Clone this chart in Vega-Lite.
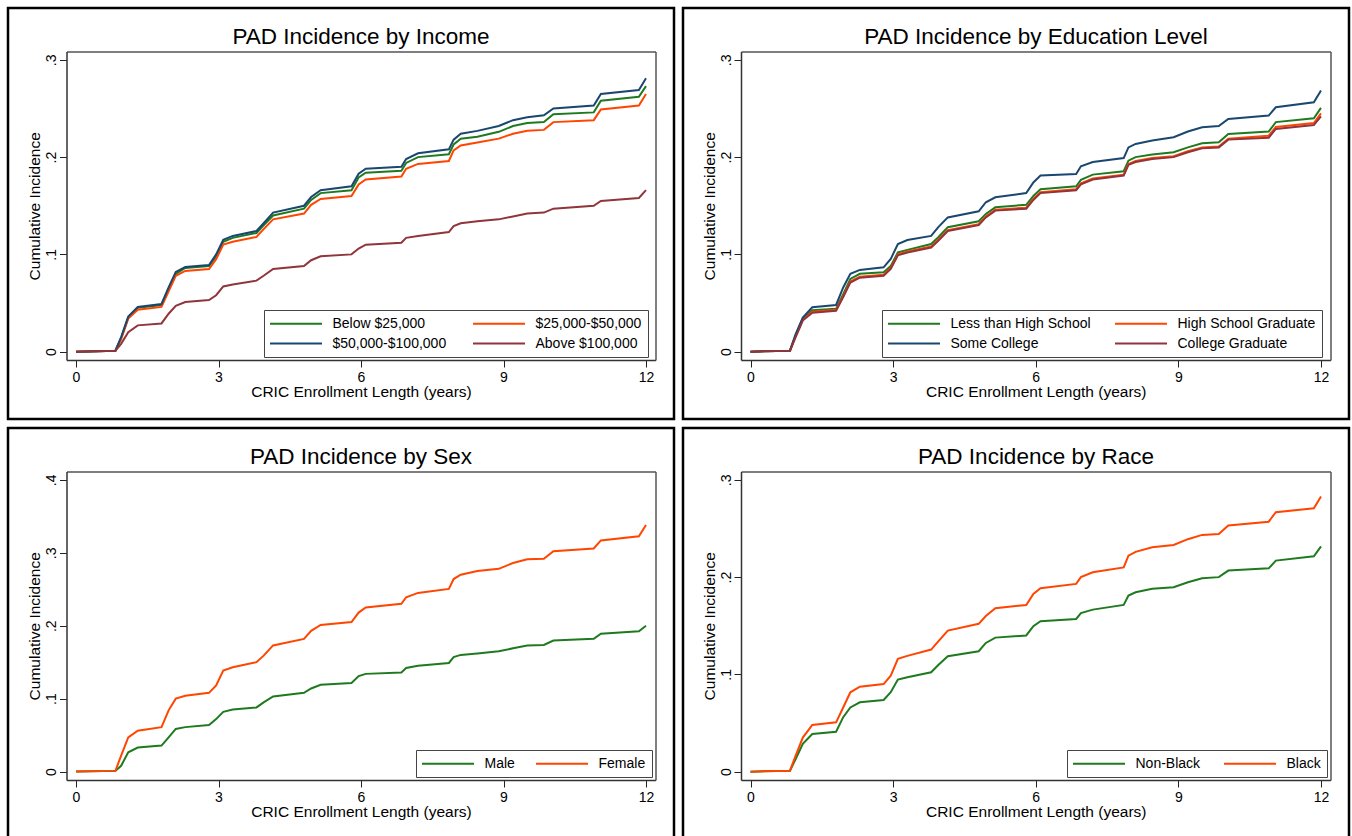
{
"$schema": "https://vega.github.io/schema/vega-lite/v6.json",
"background": "white",
"padding": {"left": 6, "top": 6, "right": 2.5, "bottom": -3.75},
"bounds": "flush",
"spacing": 9,
"columns": 2,
"config": {
  "font": "Liberation Sans",
  "view": {"stroke": "black", "strokeWidth": 2.5, "fill": "white"},
  "axis": {"labelFont": "Liberation Sans", "titleFont": "Liberation Sans", "labelColor": "black", "titleColor": "black", "tickColor": "#222", "domainColor": "#333", "grid": false, "labelFontSize": 14, "titleFontSize": 15.5, "titleFontWeight": "normal", "tickSize": 7, "domainWidth": 1.5, "tickWidth": 1},
  "legend": {"labelFont": "Liberation Sans", "labelFontSize": 14, "labelColor": "black", "symbolType": "M-4,0H4", "symbolSize": 169, "symbolStrokeWidth": 2, "symbolOffset": 18.5, "labelOffset": 29, "columnPadding": 22, "rowPadding": 5, "padding": 6, "direction": "horizontal", "strokeColor": "#444", "fillColor": "white", "labelLimit": 300, "title": null},
  "title": {"font": "Liberation Sans", "fontSize": 22.5, "fontWeight": "normal", "color": "black", "anchor": "middle", "frame": "group", "dx": 20, "offset": -40, "baseline": "alphabetic"}
},
"resolve": {"scale": {"x": "independent", "y": "independent", "color": "independent"}, "legend": {"color": "independent"}},
"datasets": {
"income": [
{"group":"Below $25,000","year":0,"ci":0},{"group":"Below $25,000","year":0.83,"ci":0.001},{"group":"Below $25,000","year":0.95,"ci":0.014},{"group":"Below $25,000","year":1.1,"ci":0.035},{"group":"Below $25,000","year":1.3,"ci":0.045},{"group":"Below $25,000","year":1.8,"ci":0.048},{"group":"Below $25,000","year":1.95,"ci":0.065},{"group":"Below $25,000","year":2.1,"ci":0.080},{"group":"Below $25,000","year":2.3,"ci":0.086},{"group":"Below $25,000","year":2.8,"ci":0.088},{"group":"Below $25,000","year":2.95,"ci":0.098},{"group":"Below $25,000","year":3.1,"ci":0.113},{"group":"Below $25,000","year":3.3,"ci":0.117},{"group":"Below $25,000","year":3.8,"ci":0.122},{"group":"Below $25,000","year":3.95,"ci":0.130},{"group":"Below $25,000","year":4.15,"ci":0.140},{"group":"Below $25,000","year":4.8,"ci":0.147},{"group":"Below $25,000","year":4.95,"ci":0.156},{"group":"Below $25,000","year":5.15,"ci":0.163},{"group":"Below $25,000","year":5.8,"ci":0.166},{"group":"Below $25,000","year":5.95,"ci":0.179},{"group":"Below $25,000","year":6.1,"ci":0.184},{"group":"Below $25,000","year":6.85,"ci":0.186},{"group":"Below $25,000","year":6.95,"ci":0.194},{"group":"Below $25,000","year":7.2,"ci":0.200},{"group":"Below $25,000","year":7.85,"ci":0.203},{"group":"Below $25,000","year":7.95,"ci":0.213},{"group":"Below $25,000","year":8.1,"ci":0.219},{"group":"Below $25,000","year":8.45,"ci":0.221},{"group":"Below $25,000","year":8.9,"ci":0.226},{"group":"Below $25,000","year":9.2,"ci":0.232},{"group":"Below $25,000","year":9.5,"ci":0.235},{"group":"Below $25,000","year":9.85,"ci":0.236},{"group":"Below $25,000","year":10.05,"ci":0.244},{"group":"Below $25,000","year":10.9,"ci":0.246},{"group":"Below $25,000","year":11.05,"ci":0.258},{"group":"Below $25,000","year":11.85,"ci":0.262},{"group":"Below $25,000","year":12,"ci":0.273},
{"group":"$25,000-$50,000","year":0,"ci":0},{"group":"$25,000-$50,000","year":0.83,"ci":0.001},{"group":"$25,000-$50,000","year":0.95,"ci":0.013},{"group":"$25,000-$50,000","year":1.1,"ci":0.034},{"group":"$25,000-$50,000","year":1.3,"ci":0.043},{"group":"$25,000-$50,000","year":1.8,"ci":0.046},{"group":"$25,000-$50,000","year":1.95,"ci":0.062},{"group":"$25,000-$50,000","year":2.1,"ci":0.078},{"group":"$25,000-$50,000","year":2.3,"ci":0.083},{"group":"$25,000-$50,000","year":2.8,"ci":0.085},{"group":"$25,000-$50,000","year":2.95,"ci":0.095},{"group":"$25,000-$50,000","year":3.1,"ci":0.110},{"group":"$25,000-$50,000","year":3.3,"ci":0.113},{"group":"$25,000-$50,000","year":3.8,"ci":0.118},{"group":"$25,000-$50,000","year":3.95,"ci":0.126},{"group":"$25,000-$50,000","year":4.15,"ci":0.136},{"group":"$25,000-$50,000","year":4.8,"ci":0.142},{"group":"$25,000-$50,000","year":4.95,"ci":0.151},{"group":"$25,000-$50,000","year":5.15,"ci":0.157},{"group":"$25,000-$50,000","year":5.8,"ci":0.160},{"group":"$25,000-$50,000","year":5.95,"ci":0.172},{"group":"$25,000-$50,000","year":6.1,"ci":0.177},{"group":"$25,000-$50,000","year":6.85,"ci":0.180},{"group":"$25,000-$50,000","year":6.95,"ci":0.188},{"group":"$25,000-$50,000","year":7.2,"ci":0.193},{"group":"$25,000-$50,000","year":7.85,"ci":0.196},{"group":"$25,000-$50,000","year":7.95,"ci":0.207},{"group":"$25,000-$50,000","year":8.1,"ci":0.212},{"group":"$25,000-$50,000","year":8.45,"ci":0.215},{"group":"$25,000-$50,000","year":8.9,"ci":0.219},{"group":"$25,000-$50,000","year":9.2,"ci":0.224},{"group":"$25,000-$50,000","year":9.5,"ci":0.227},{"group":"$25,000-$50,000","year":9.85,"ci":0.228},{"group":"$25,000-$50,000","year":10.05,"ci":0.236},{"group":"$25,000-$50,000","year":10.9,"ci":0.238},{"group":"$25,000-$50,000","year":11.05,"ci":0.249},{"group":"$25,000-$50,000","year":11.85,"ci":0.253},{"group":"$25,000-$50,000","year":12,"ci":0.265},
{"group":"$50,000-$100,000","year":0,"ci":0},{"group":"$50,000-$100,000","year":0.83,"ci":0.001},{"group":"$50,000-$100,000","year":0.95,"ci":0.015},{"group":"$50,000-$100,000","year":1.1,"ci":0.036},{"group":"$50,000-$100,000","year":1.3,"ci":0.046},{"group":"$50,000-$100,000","year":1.8,"ci":0.049},{"group":"$50,000-$100,000","year":1.95,"ci":0.066},{"group":"$50,000-$100,000","year":2.1,"ci":0.082},{"group":"$50,000-$100,000","year":2.3,"ci":0.087},{"group":"$50,000-$100,000","year":2.8,"ci":0.089},{"group":"$50,000-$100,000","year":2.95,"ci":0.100},{"group":"$50,000-$100,000","year":3.1,"ci":0.115},{"group":"$50,000-$100,000","year":3.3,"ci":0.119},{"group":"$50,000-$100,000","year":3.8,"ci":0.124},{"group":"$50,000-$100,000","year":3.95,"ci":0.132},{"group":"$50,000-$100,000","year":4.15,"ci":0.143},{"group":"$50,000-$100,000","year":4.8,"ci":0.150},{"group":"$50,000-$100,000","year":4.95,"ci":0.159},{"group":"$50,000-$100,000","year":5.15,"ci":0.166},{"group":"$50,000-$100,000","year":5.8,"ci":0.170},{"group":"$50,000-$100,000","year":5.95,"ci":0.183},{"group":"$50,000-$100,000","year":6.1,"ci":0.188},{"group":"$50,000-$100,000","year":6.85,"ci":0.190},{"group":"$50,000-$100,000","year":6.95,"ci":0.198},{"group":"$50,000-$100,000","year":7.2,"ci":0.204},{"group":"$50,000-$100,000","year":7.85,"ci":0.208},{"group":"$50,000-$100,000","year":7.95,"ci":0.218},{"group":"$50,000-$100,000","year":8.1,"ci":0.224},{"group":"$50,000-$100,000","year":8.45,"ci":0.227},{"group":"$50,000-$100,000","year":8.9,"ci":0.232},{"group":"$50,000-$100,000","year":9.2,"ci":0.238},{"group":"$50,000-$100,000","year":9.5,"ci":0.241},{"group":"$50,000-$100,000","year":9.85,"ci":0.243},{"group":"$50,000-$100,000","year":10.05,"ci":0.250},{"group":"$50,000-$100,000","year":10.9,"ci":0.253},{"group":"$50,000-$100,000","year":11.05,"ci":0.265},{"group":"$50,000-$100,000","year":11.85,"ci":0.269},{"group":"$50,000-$100,000","year":12,"ci":0.281},
{"group":"Above $100,000","year":0,"ci":0},{"group":"Above $100,000","year":0.83,"ci":0.001},{"group":"Above $100,000","year":0.95,"ci":0.008},{"group":"Above $100,000","year":1.1,"ci":0.020},{"group":"Above $100,000","year":1.3,"ci":0.027},{"group":"Above $100,000","year":1.8,"ci":0.029},{"group":"Above $100,000","year":1.95,"ci":0.039},{"group":"Above $100,000","year":2.1,"ci":0.047},{"group":"Above $100,000","year":2.3,"ci":0.051},{"group":"Above $100,000","year":2.8,"ci":0.053},{"group":"Above $100,000","year":2.95,"ci":0.058},{"group":"Above $100,000","year":3.1,"ci":0.067},{"group":"Above $100,000","year":3.3,"ci":0.069},{"group":"Above $100,000","year":3.8,"ci":0.073},{"group":"Above $100,000","year":3.95,"ci":0.078},{"group":"Above $100,000","year":4.15,"ci":0.085},{"group":"Above $100,000","year":4.8,"ci":0.088},{"group":"Above $100,000","year":4.95,"ci":0.094},{"group":"Above $100,000","year":5.15,"ci":0.098},{"group":"Above $100,000","year":5.8,"ci":0.100},{"group":"Above $100,000","year":5.95,"ci":0.106},{"group":"Above $100,000","year":6.1,"ci":0.110},{"group":"Above $100,000","year":6.85,"ci":0.112},{"group":"Above $100,000","year":6.95,"ci":0.117},{"group":"Above $100,000","year":7.2,"ci":0.119},{"group":"Above $100,000","year":7.85,"ci":0.123},{"group":"Above $100,000","year":7.95,"ci":0.129},{"group":"Above $100,000","year":8.1,"ci":0.132},{"group":"Above $100,000","year":8.45,"ci":0.134},{"group":"Above $100,000","year":8.9,"ci":0.136},{"group":"Above $100,000","year":9.2,"ci":0.139},{"group":"Above $100,000","year":9.5,"ci":0.142},{"group":"Above $100,000","year":9.85,"ci":0.143},{"group":"Above $100,000","year":10.05,"ci":0.147},{"group":"Above $100,000","year":10.9,"ci":0.150},{"group":"Above $100,000","year":11.05,"ci":0.155},{"group":"Above $100,000","year":11.85,"ci":0.158},{"group":"Above $100,000","year":12,"ci":0.166}
],
"education": [
{"group":"Less than High School","year":0,"ci":0},{"group":"Less than High School","year":0.83,"ci":0.001},{"group":"Less than High School","year":0.95,"ci":0.017},{"group":"Less than High School","year":1.1,"ci":0.034},{"group":"Less than High School","year":1.3,"ci":0.0425},{"group":"Less than High School","year":1.8,"ci":0.044},{"group":"Less than High School","year":1.95,"ci":0.059},{"group":"Less than High School","year":2.1,"ci":0.0747},{"group":"Less than High School","year":2.3,"ci":0.080},{"group":"Less than High School","year":2.8,"ci":0.0816},{"group":"Less than High School","year":2.95,"ci":0.088},{"group":"Less than High School","year":3.1,"ci":0.102},{"group":"Less than High School","year":3.3,"ci":0.1046},{"group":"Less than High School","year":3.8,"ci":0.1107},{"group":"Less than High School","year":3.95,"ci":0.1176},{"group":"Less than High School","year":4.15,"ci":0.128},{"group":"Less than High School","year":4.8,"ci":0.134},{"group":"Less than High School","year":4.95,"ci":0.1416},{"group":"Less than High School","year":5.15,"ci":0.1484},{"group":"Less than High School","year":5.8,"ci":0.151},{"group":"Less than High School","year":5.95,"ci":0.160},{"group":"Less than High School","year":6.1,"ci":0.167},{"group":"Less than High School","year":6.85,"ci":0.170},{"group":"Less than High School","year":6.95,"ci":0.1766},{"group":"Less than High School","year":7.2,"ci":0.182},{"group":"Less than High School","year":7.85,"ci":0.1855},{"group":"Less than High School","year":7.95,"ci":0.1964},{"group":"Less than High School","year":8.1,"ci":0.200},{"group":"Less than High School","year":8.45,"ci":0.2026},{"group":"Less than High School","year":8.9,"ci":0.205},{"group":"Less than High School","year":9.2,"ci":0.210},{"group":"Less than High School","year":9.5,"ci":0.2143},{"group":"Less than High School","year":9.85,"ci":0.2153},{"group":"Less than High School","year":10.05,"ci":0.2239},{"group":"Less than High School","year":10.9,"ci":0.2263},{"group":"Less than High School","year":11.05,"ci":0.236},{"group":"Less than High School","year":11.85,"ci":0.240},{"group":"Less than High School","year":12,"ci":0.2506},
{"group":"High School Graduate","year":0,"ci":0},{"group":"High School Graduate","year":0.83,"ci":0.001},{"group":"High School Graduate","year":0.95,"ci":0.016},{"group":"High School Graduate","year":1.1,"ci":0.033},{"group":"High School Graduate","year":1.3,"ci":0.041},{"group":"High School Graduate","year":1.8,"ci":0.043},{"group":"High School Graduate","year":1.95,"ci":0.057},{"group":"High School Graduate","year":2.1,"ci":0.072},{"group":"High School Graduate","year":2.3,"ci":0.077},{"group":"High School Graduate","year":2.8,"ci":0.079},{"group":"High School Graduate","year":2.95,"ci":0.086},{"group":"High School Graduate","year":3.1,"ci":0.100},{"group":"High School Graduate","year":3.3,"ci":0.103},{"group":"High School Graduate","year":3.8,"ci":0.108},{"group":"High School Graduate","year":3.95,"ci":0.115},{"group":"High School Graduate","year":4.15,"ci":0.125},{"group":"High School Graduate","year":4.8,"ci":0.131},{"group":"High School Graduate","year":4.95,"ci":0.139},{"group":"High School Graduate","year":5.15,"ci":0.146},{"group":"High School Graduate","year":5.8,"ci":0.148},{"group":"High School Graduate","year":5.95,"ci":0.157},{"group":"High School Graduate","year":6.1,"ci":0.164},{"group":"High School Graduate","year":6.85,"ci":0.167},{"group":"High School Graduate","year":6.95,"ci":0.173},{"group":"High School Graduate","year":7.2,"ci":0.178},{"group":"High School Graduate","year":7.85,"ci":0.182},{"group":"High School Graduate","year":7.95,"ci":0.193},{"group":"High School Graduate","year":8.1,"ci":0.196},{"group":"High School Graduate","year":8.45,"ci":0.199},{"group":"High School Graduate","year":8.9,"ci":0.201},{"group":"High School Graduate","year":9.2,"ci":0.206},{"group":"High School Graduate","year":9.5,"ci":0.210},{"group":"High School Graduate","year":9.85,"ci":0.211},{"group":"High School Graduate","year":10.05,"ci":0.219},{"group":"High School Graduate","year":10.9,"ci":0.222},{"group":"High School Graduate","year":11.05,"ci":0.231},{"group":"High School Graduate","year":11.85,"ci":0.235},{"group":"High School Graduate","year":12,"ci":0.245},
{"group":"Some College","year":0,"ci":0},{"group":"Some College","year":0.83,"ci":0.001},{"group":"Some College","year":0.95,"ci":0.018},{"group":"Some College","year":1.1,"ci":0.035},{"group":"Some College","year":1.3,"ci":0.0456},{"group":"Some College","year":1.8,"ci":0.048},{"group":"Some College","year":1.95,"ci":0.066},{"group":"Some College","year":2.1,"ci":0.080},{"group":"Some College","year":2.3,"ci":0.084},{"group":"Some College","year":2.8,"ci":0.0867},{"group":"Some College","year":2.95,"ci":0.0953},{"group":"Some College","year":3.1,"ci":0.1107},{"group":"Some College","year":3.3,"ci":0.1148},{"group":"Some College","year":3.8,"ci":0.119},{"group":"Some College","year":3.95,"ci":0.128},{"group":"Some College","year":4.15,"ci":0.138},{"group":"Some College","year":4.8,"ci":0.1443},{"group":"Some College","year":4.95,"ci":0.1536},{"group":"Some College","year":5.15,"ci":0.1587},{"group":"Some College","year":5.8,"ci":0.163},{"group":"Some College","year":5.95,"ci":0.174},{"group":"Some College","year":6.1,"ci":0.181},{"group":"Some College","year":6.85,"ci":0.1827},{"group":"Some College","year":6.95,"ci":0.1906},{"group":"Some College","year":7.2,"ci":0.195},{"group":"Some College","year":7.85,"ci":0.199},{"group":"Some College","year":7.95,"ci":0.210},{"group":"Some College","year":8.1,"ci":0.2136},{"group":"Some College","year":8.45,"ci":0.217},{"group":"Some College","year":8.9,"ci":0.2204},{"group":"Some College","year":9.2,"ci":0.2263},{"group":"Some College","year":9.5,"ci":0.2307},{"group":"Some College","year":9.85,"ci":0.232},{"group":"Some College","year":10.05,"ci":0.2393},{"group":"Some College","year":10.9,"ci":0.2427},{"group":"Some College","year":11.05,"ci":0.2513},{"group":"Some College","year":11.85,"ci":0.2564},{"group":"Some College","year":12,"ci":0.2684},
{"group":"College Graduate","year":0,"ci":0},{"group":"College Graduate","year":0.83,"ci":0.001},{"group":"College Graduate","year":0.95,"ci":0.015},{"group":"College Graduate","year":1.1,"ci":0.032},{"group":"College Graduate","year":1.3,"ci":0.040},{"group":"College Graduate","year":1.8,"ci":0.042},{"group":"College Graduate","year":1.95,"ci":0.056},{"group":"College Graduate","year":2.1,"ci":0.071},{"group":"College Graduate","year":2.3,"ci":0.076},{"group":"College Graduate","year":2.8,"ci":0.078},{"group":"College Graduate","year":2.95,"ci":0.085},{"group":"College Graduate","year":3.1,"ci":0.099},{"group":"College Graduate","year":3.3,"ci":0.102},{"group":"College Graduate","year":3.8,"ci":0.107},{"group":"College Graduate","year":3.95,"ci":0.114},{"group":"College Graduate","year":4.15,"ci":0.124},{"group":"College Graduate","year":4.8,"ci":0.130},{"group":"College Graduate","year":4.95,"ci":0.138},{"group":"College Graduate","year":5.15,"ci":0.145},{"group":"College Graduate","year":5.8,"ci":0.147},{"group":"College Graduate","year":5.95,"ci":0.156},{"group":"College Graduate","year":6.1,"ci":0.163},{"group":"College Graduate","year":6.85,"ci":0.166},{"group":"College Graduate","year":6.95,"ci":0.172},{"group":"College Graduate","year":7.2,"ci":0.177},{"group":"College Graduate","year":7.85,"ci":0.181},{"group":"College Graduate","year":7.95,"ci":0.192},{"group":"College Graduate","year":8.1,"ci":0.195},{"group":"College Graduate","year":8.45,"ci":0.198},{"group":"College Graduate","year":8.9,"ci":0.200},{"group":"College Graduate","year":9.2,"ci":0.205},{"group":"College Graduate","year":9.5,"ci":0.209},{"group":"College Graduate","year":9.85,"ci":0.210},{"group":"College Graduate","year":10.05,"ci":0.218},{"group":"College Graduate","year":10.9,"ci":0.220},{"group":"College Graduate","year":11.05,"ci":0.229},{"group":"College Graduate","year":11.85,"ci":0.233},{"group":"College Graduate","year":12,"ci":0.242}
],
"sex": [
{"group":"Male","year":0,"ci":0},{"group":"Male","year":0.83,"ci":0.001},{"group":"Male","year":0.95,"ci":0.008},{"group":"Male","year":1.1,"ci":0.0265},{"group":"Male","year":1.3,"ci":0.033},{"group":"Male","year":1.8,"ci":0.0357},{"group":"Male","year":1.95,"ci":0.047},{"group":"Male","year":2.1,"ci":0.0585},{"group":"Male","year":2.3,"ci":0.061},{"group":"Male","year":2.8,"ci":0.064},{"group":"Male","year":2.95,"ci":0.072},{"group":"Male","year":3.1,"ci":0.082},{"group":"Male","year":3.3,"ci":0.085},{"group":"Male","year":3.8,"ci":0.088},{"group":"Male","year":3.95,"ci":0.095},{"group":"Male","year":4.15,"ci":0.103},{"group":"Male","year":4.8,"ci":0.108},{"group":"Male","year":4.95,"ci":0.114},{"group":"Male","year":5.15,"ci":0.119},{"group":"Male","year":5.8,"ci":0.1216},{"group":"Male","year":5.95,"ci":0.131},{"group":"Male","year":6.1,"ci":0.134},{"group":"Male","year":6.85,"ci":0.136},{"group":"Male","year":6.95,"ci":0.142},{"group":"Male","year":7.2,"ci":0.145},{"group":"Male","year":7.85,"ci":0.149},{"group":"Male","year":7.95,"ci":0.157},{"group":"Male","year":8.1,"ci":0.160},{"group":"Male","year":8.45,"ci":0.162},{"group":"Male","year":8.9,"ci":0.165},{"group":"Male","year":9.2,"ci":0.169},{"group":"Male","year":9.5,"ci":0.173},{"group":"Male","year":9.85,"ci":0.1737},{"group":"Male","year":10.05,"ci":0.1797},{"group":"Male","year":10.9,"ci":0.182},{"group":"Male","year":11.05,"ci":0.189},{"group":"Male","year":11.85,"ci":0.1925},{"group":"Male","year":12,"ci":0.200},
{"group":"Female","year":0,"ci":0},{"group":"Female","year":0.83,"ci":0.001},{"group":"Female","year":0.95,"ci":0.022},{"group":"Female","year":1.1,"ci":0.047},{"group":"Female","year":1.3,"ci":0.056},{"group":"Female","year":1.8,"ci":0.061},{"group":"Female","year":1.95,"ci":0.084},{"group":"Female","year":2.1,"ci":0.100},{"group":"Female","year":2.3,"ci":0.104},{"group":"Female","year":2.8,"ci":0.108},{"group":"Female","year":2.95,"ci":0.118},{"group":"Female","year":3.1,"ci":0.1385},{"group":"Female","year":3.3,"ci":0.143},{"group":"Female","year":3.8,"ci":0.150},{"group":"Female","year":3.95,"ci":0.159},{"group":"Female","year":4.15,"ci":0.173},{"group":"Female","year":4.8,"ci":0.182},{"group":"Female","year":4.95,"ci":0.193},{"group":"Female","year":5.15,"ci":0.201},{"group":"Female","year":5.8,"ci":0.205},{"group":"Female","year":5.95,"ci":0.218},{"group":"Female","year":6.1,"ci":0.225},{"group":"Female","year":6.85,"ci":0.230},{"group":"Female","year":6.95,"ci":0.239},{"group":"Female","year":7.2,"ci":0.245},{"group":"Female","year":7.85,"ci":0.2505},{"group":"Female","year":7.95,"ci":0.264},{"group":"Female","year":8.1,"ci":0.270},{"group":"Female","year":8.45,"ci":0.275},{"group":"Female","year":8.9,"ci":0.278},{"group":"Female","year":9.2,"ci":0.286},{"group":"Female","year":9.5,"ci":0.291},{"group":"Female","year":9.85,"ci":0.2917},{"group":"Female","year":10.05,"ci":0.302},{"group":"Female","year":10.9,"ci":0.306},{"group":"Female","year":11.05,"ci":0.317},{"group":"Female","year":11.85,"ci":0.3227},{"group":"Female","year":12,"ci":0.338}
],
"race": [
{"group":"Non-Black","year":0,"ci":0},{"group":"Non-Black","year":0.83,"ci":0.001},{"group":"Non-Black","year":0.95,"ci":0.013},{"group":"Non-Black","year":1.1,"ci":0.0285},{"group":"Non-Black","year":1.3,"ci":0.0387},{"group":"Non-Black","year":1.8,"ci":0.041},{"group":"Non-Black","year":1.95,"ci":0.056},{"group":"Non-Black","year":2.1,"ci":0.066},{"group":"Non-Black","year":2.3,"ci":0.0713},{"group":"Non-Black","year":2.8,"ci":0.0737},{"group":"Non-Black","year":2.95,"ci":0.0816},{"group":"Non-Black","year":3.1,"ci":0.0946},{"group":"Non-Black","year":3.3,"ci":0.097},{"group":"Non-Black","year":3.8,"ci":0.1022},{"group":"Non-Black","year":3.95,"ci":0.1097},{"group":"Non-Black","year":4.15,"ci":0.1186},{"group":"Non-Black","year":4.8,"ci":0.1238},{"group":"Non-Black","year":4.95,"ci":0.1323},{"group":"Non-Black","year":5.15,"ci":0.1378},{"group":"Non-Black","year":5.8,"ci":0.140},{"group":"Non-Black","year":5.95,"ci":0.1495},{"group":"Non-Black","year":6.1,"ci":0.1546},{"group":"Non-Black","year":6.85,"ci":0.157},{"group":"Non-Black","year":6.95,"ci":0.163},{"group":"Non-Black","year":7.2,"ci":0.1666},{"group":"Non-Black","year":7.85,"ci":0.1714},{"group":"Non-Black","year":7.95,"ci":0.181},{"group":"Non-Black","year":8.1,"ci":0.1844},{"group":"Non-Black","year":8.45,"ci":0.188},{"group":"Non-Black","year":8.9,"ci":0.1896},{"group":"Non-Black","year":9.2,"ci":0.1947},{"group":"Non-Black","year":9.5,"ci":0.1988},{"group":"Non-Black","year":9.85,"ci":0.200},{"group":"Non-Black","year":10.05,"ci":0.2067},{"group":"Non-Black","year":10.9,"ci":0.209},{"group":"Non-Black","year":11.05,"ci":0.217},{"group":"Non-Black","year":11.85,"ci":0.2215},{"group":"Non-Black","year":12,"ci":0.2317},
{"group":"Black","year":0,"ci":0},{"group":"Black","year":0.83,"ci":0.001},{"group":"Black","year":0.95,"ci":0.0165},{"group":"Black","year":1.1,"ci":0.035},{"group":"Black","year":1.3,"ci":0.048},{"group":"Black","year":1.8,"ci":0.0507},{"group":"Black","year":1.95,"ci":0.066},{"group":"Black","year":2.1,"ci":0.0816},{"group":"Black","year":2.3,"ci":0.0874},{"group":"Black","year":2.8,"ci":0.090},{"group":"Black","year":2.95,"ci":0.0987},{"group":"Black","year":3.1,"ci":0.1159},{"group":"Black","year":3.3,"ci":0.119},{"group":"Black","year":3.8,"ci":0.1255},{"group":"Black","year":3.95,"ci":0.134},{"group":"Black","year":4.15,"ci":0.145},{"group":"Black","year":4.8,"ci":0.152},{"group":"Black","year":4.95,"ci":0.160},{"group":"Black","year":5.15,"ci":0.168},{"group":"Black","year":5.8,"ci":0.1714},{"group":"Black","year":5.95,"ci":0.1827},{"group":"Black","year":6.1,"ci":0.1886},{"group":"Black","year":6.85,"ci":0.193},{"group":"Black","year":6.95,"ci":0.200},{"group":"Black","year":7.2,"ci":0.205},{"group":"Black","year":7.85,"ci":0.210},{"group":"Black","year":7.95,"ci":0.222},{"group":"Black","year":8.1,"ci":0.226},{"group":"Black","year":8.45,"ci":0.2307},{"group":"Black","year":8.9,"ci":0.233},{"group":"Black","year":9.2,"ci":0.239},{"group":"Black","year":9.5,"ci":0.2434},{"group":"Black","year":9.85,"ci":0.2444},{"group":"Black","year":10.05,"ci":0.253},{"group":"Black","year":10.9,"ci":0.257},{"group":"Black","year":11.05,"ci":0.2667},{"group":"Black","year":11.85,"ci":0.2708},{"group":"Black","year":12,"ci":0.283}
]
},
"concat": [
{
 "width": 666, "height": 411,
 "title": {"text": "PAD Incidence by Income"},
 "data": {"name": "income"},
 "layer": [
  {"mark": {"type": "line", "strokeWidth": 2},
   "encoding": {
    "x": {"field": "year", "type": "quantitative", "scale": {"domain": [-0.2, 12.2], "range": [58.5, 647.5], "nice": false, "zero": false}, "axis": {"orient": "bottom", "offset": -59, "values": [0, 3, 6, 9, 12], "title": "CRIC Enrollment Length (years)", "titleY": 36.5, "titleBaseline": "alphabetic", "labelPadding": 3, "labelFlush": false}},
    "y": {"field": "ci", "type": "quantitative", "scale": {"domain": [-0.0086, 0.3085], "range": [352, 43.6], "nice": false, "zero": false}, "axis": {"orient": "left", "offset": -58.5, "values": [0, 0.1, 0.2, 0.3], "labelExpr": "datum.value == 0 ? '0' : replace(format(datum.value, '.1f'), '0.', '.')", "labelAngle": -90, "labelAlign": "center", "labelBaseline": "alphabetic", "labelPadding": 4, "labelFlush": false, "title": "Cumulative Incidence", "titleX": -26.8, "titleY": 197.8, "titleBaseline": "alphabetic", "titleAngle": -90}},
    "color": {"field": "group", "type": "nominal", "sort": ["Below $25,000", "$25,000-$50,000", "$50,000-$100,000", "Above $100,000"], "scale": {"domain": ["Below $25,000", "$25,000-$50,000", "$50,000-$100,000", "Above $100,000"], "range": ["#1f7a1f", "#ff4500", "#1a476f", "#90353b"]}, "legend": {"orient": "none", "legendX": 256, "legendY": 302, "columns": 2, "columnPadding": 22}}
   }},
  {"mark": {"type": "line", "opacity": 0},
   "encoding": {
    "x": {"field": "year", "type": "quantitative", "axis": {"orient": "top", "offset": -43.6, "labels": false, "ticks": false, "title": null, "domainColor": "#555"}},
    "y": {"field": "ci", "type": "quantitative", "axis": {"orient": "right", "offset": -18.5, "labels": false, "ticks": false, "title": null, "domainColor": "#555"}}
   }}
 ],
 "resolve": {"axis": {"x": "independent", "y": "independent"}}
},
{
 "width": 666, "height": 411,
 "title": {"text": "PAD Incidence by Education Level"},
 "data": {"name": "education"},
 "layer": [
  {"mark": {"type": "line", "strokeWidth": 2},
   "encoding": {
    "x": {"field": "year", "type": "quantitative", "scale": {"domain": [-0.2, 12.2], "range": [58, 647.5], "nice": false, "zero": false}, "axis": {"orient": "bottom", "offset": -59, "values": [0, 3, 6, 9, 12], "title": "CRIC Enrollment Length (years)", "titleY": 36.5, "titleBaseline": "alphabetic", "labelPadding": 3, "labelFlush": false}},
    "y": {"field": "ci", "type": "quantitative", "scale": {"domain": [-0.0086, 0.3085], "range": [352, 43.6], "nice": false, "zero": false}, "axis": {"orient": "left", "offset": -58, "values": [0, 0.1, 0.2, 0.3], "labelExpr": "datum.value == 0 ? '0' : replace(format(datum.value, '.1f'), '0.', '.')", "labelAngle": -90, "labelAlign": "center", "labelBaseline": "alphabetic", "labelPadding": 4, "labelFlush": false, "title": "Cumulative Incidence", "titleX": -26.8, "titleY": 197.8, "titleBaseline": "alphabetic", "titleAngle": -90}},
    "color": {"field": "group", "type": "nominal", "sort": ["Less than High School", "High School Graduate", "Some College", "College Graduate"], "scale": {"domain": ["Less than High School", "High School Graduate", "Some College", "College Graduate"], "range": ["#1f7a1f", "#ff4500", "#1a476f", "#90353b"]}, "legend": {"orient": "none", "legendX": 199, "legendY": 302, "columns": 2, "columnPadding": 20}}
   }},
  {"mark": {"type": "line", "opacity": 0},
   "encoding": {
    "x": {"field": "year", "type": "quantitative", "axis": {"orient": "top", "offset": -43.6, "labels": false, "ticks": false, "title": null, "domainColor": "#555"}},
    "y": {"field": "ci", "type": "quantitative", "axis": {"orient": "right", "offset": -18.5, "labels": false, "ticks": false, "title": null, "domainColor": "#555"}}
   }}
 ],
 "resolve": {"axis": {"x": "independent", "y": "independent"}}
},
{
 "width": 666, "height": 411,
 "title": {"text": "PAD Incidence by Sex"},
 "data": {"name": "sex"},
 "layer": [
  {"mark": {"type": "line", "strokeWidth": 2},
   "encoding": {
    "x": {"field": "year", "type": "quantitative", "scale": {"domain": [-0.2, 12.2], "range": [58.5, 647.5], "nice": false, "zero": false}, "axis": {"orient": "bottom", "offset": -59, "values": [0, 3, 6, 9, 12], "title": "CRIC Enrollment Length (years)", "titleY": 36.5, "titleBaseline": "alphabetic", "labelPadding": 3, "labelFlush": false}},
    "y": {"field": "ci", "type": "quantitative", "scale": {"domain": [-0.0115, 0.4113], "range": [352, 43.6], "nice": false, "zero": false}, "axis": {"orient": "left", "offset": -58.5, "values": [0, 0.1, 0.2, 0.3, 0.4], "labelExpr": "datum.value == 0 ? '0' : replace(format(datum.value, '.1f'), '0.', '.')", "labelAngle": -90, "labelAlign": "center", "labelBaseline": "alphabetic", "labelPadding": 4, "labelFlush": false, "title": "Cumulative Incidence", "titleX": -26.8, "titleY": 197.8, "titleBaseline": "alphabetic", "titleAngle": -90}},
    "color": {"field": "group", "type": "nominal", "sort": ["Male", "Female"], "scale": {"domain": ["Male", "Female"], "range": ["#1f7a1f", "#ff4500"]}, "legend": {"orient": "none", "legendX": 408, "legendY": 322, "columns": 2, "columnPadding": 17}}
   }},
  {"mark": {"type": "line", "opacity": 0},
   "encoding": {
    "x": {"field": "year", "type": "quantitative", "axis": {"orient": "top", "offset": -43.6, "labels": false, "ticks": false, "title": null, "domainColor": "#555"}},
    "y": {"field": "ci", "type": "quantitative", "axis": {"orient": "right", "offset": -18.5, "labels": false, "ticks": false, "title": null, "domainColor": "#555"}}
   }}
 ],
 "resolve": {"axis": {"x": "independent", "y": "independent"}}
},
{
 "width": 666, "height": 411,
 "title": {"text": "PAD Incidence by Race"},
 "data": {"name": "race"},
 "layer": [
  {"mark": {"type": "line", "strokeWidth": 2},
   "encoding": {
    "x": {"field": "year", "type": "quantitative", "scale": {"domain": [-0.2, 12.2], "range": [58, 647.5], "nice": false, "zero": false}, "axis": {"orient": "bottom", "offset": -59, "values": [0, 3, 6, 9, 12], "title": "CRIC Enrollment Length (years)", "titleY": 36.5, "titleBaseline": "alphabetic", "labelPadding": 3, "labelFlush": false}},
    "y": {"field": "ci", "type": "quantitative", "scale": {"domain": [-0.0086, 0.3085], "range": [352, 43.6], "nice": false, "zero": false}, "axis": {"orient": "left", "offset": -58, "values": [0, 0.1, 0.2, 0.3], "labelExpr": "datum.value == 0 ? '0' : replace(format(datum.value, '.1f'), '0.', '.')", "labelAngle": -90, "labelAlign": "center", "labelBaseline": "alphabetic", "labelPadding": 4, "labelFlush": false, "title": "Cumulative Incidence", "titleX": -26.8, "titleY": 197.8, "titleBaseline": "alphabetic", "titleAngle": -90}},
    "color": {"field": "group", "type": "nominal", "sort": ["Non-Black", "Black"], "scale": {"domain": ["Non-Black", "Black"], "range": ["#1f7a1f", "#ff4500"]}, "legend": {"orient": "none", "legendX": 384, "legendY": 322, "columns": 2, "columnPadding": 19}}
   }},
  {"mark": {"type": "line", "opacity": 0},
   "encoding": {
    "x": {"field": "year", "type": "quantitative", "axis": {"orient": "top", "offset": -43.6, "labels": false, "ticks": false, "title": null, "domainColor": "#555"}},
    "y": {"field": "ci", "type": "quantitative", "axis": {"orient": "right", "offset": -18.5, "labels": false, "ticks": false, "title": null, "domainColor": "#555"}}
   }}
 ],
 "resolve": {"axis": {"x": "independent", "y": "independent"}}
}
]
}
